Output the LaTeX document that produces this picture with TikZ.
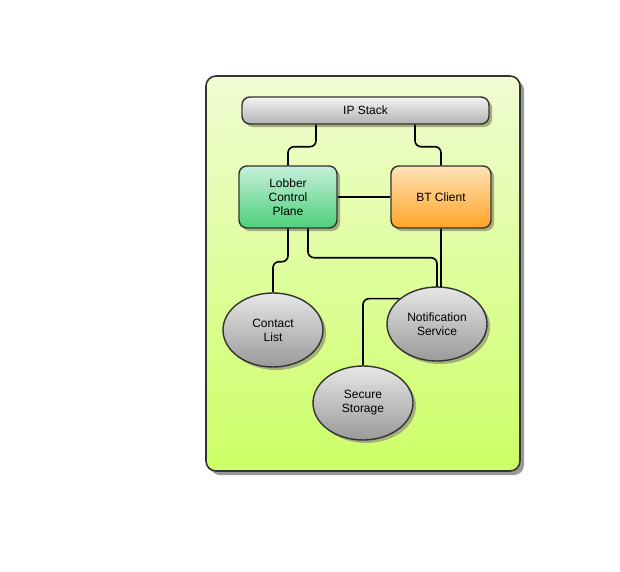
\documentclass[tikz,border=0pt]{standalone}
\usepackage{fontspec}
\setmainfont{Liberation Sans}
\usetikzlibrary{shapes.geometric,shadows,calc}
\definecolor{bordc}{HTML}{333333}
\definecolor{contTop}{HTML}{F0FCD2}
\definecolor{contBot}{HTML}{CCFF66}
\definecolor{nshadow}{HTML}{A4B07A}
\definecolor{greyTop}{HTML}{F2F2F2}
\definecolor{greyBot}{HTML}{B4B4B4}
\definecolor{ellTop}{HTML}{E6E6E6}
\definecolor{ellBot}{HTML}{9A9A9A}
\definecolor{grTop}{HTML}{C6F0DA}
\definecolor{grBot}{HTML}{4CCF7A}
\definecolor{orTop}{HTML}{FFE2B8}
\definecolor{orBot}{HTML}{FFA424}
\tikzset{
  nshad/.style={general shadow={shadow xshift=3pt,shadow yshift=-3pt,fill=nshadow}},
  boxbase/.style={draw=bordc,line width=1.4pt,rounded corners=8pt,align=center,
    font=\fontsize{12}{14}\selectfont,inner sep=0pt,nshad},
  ellbase/.style={ellipse,draw=bordc,line width=1.4pt,align=center,
    font=\fontsize{12}{14}\selectfont,inner sep=0pt,minimum width=100pt,minimum height=74pt,
    top color=ellTop,bottom color=ellBot,nshad},
  conn/.style={line width=1.6pt,rounded corners=6pt}
}
\begin{document}
\begin{tikzpicture}[x=1pt,y=-1pt]
\useasboundingbox (0,0) rectangle (620,571);
% container
\node[draw=bordc,line width=1.6pt,rounded corners=10pt,minimum width=314pt,minimum height=395pt,
  inner sep=0pt,top color=contTop,bottom color=contBot,
  general shadow={shadow xshift=4pt,shadow yshift=-4pt,fill=black!40}] (cont) at (363,273.5) {};
% nodes
\node[boxbase,minimum width=247pt,minimum height=27pt,top color=greyTop,bottom color=greyBot] (ip) at (365.5,110.5) {IP Stack};
\node[boxbase,minimum width=98pt,minimum height=62pt,top color=grTop,bottom color=grBot] (lcp) at (288,197) {Lobber\\Control\\Plane};
\node[boxbase,minimum width=100pt,minimum height=62pt,top color=orTop,bottom color=orBot] (bt) at (441,197) {BT Client};
\node[ellbase] (cl) at (273,330) {Contact\\List};
\node[ellbase] (ns) at (437,324) {Notification\\Service};
\node[ellbase] (ss) at (363,403) {Secure\\Storage};
% connectors
\draw[conn] ($(ip.south)+(-49.5,0)$) -- ++(0,22) -| (lcp.north);
\draw[conn] ($(ip.south)+(49.5,0)$) -- ++(0,22) -| (bt.north);
\draw[conn] (lcp.east) -- (bt.west);
\draw[conn] (lcp.south) -- ++(0,33) -| (cl.north);
\draw[conn] ($(lcp.south)+(20,0)$) -- ++(0,29) -| ($(ns.north)+(0,0.5)$);
\draw[conn] (bt.south) -- ($(bt.south |- ns.north)+(0,0.5)$);
\draw[conn] (ns.146) -| (ss.north);
\end{tikzpicture}
\end{document}
